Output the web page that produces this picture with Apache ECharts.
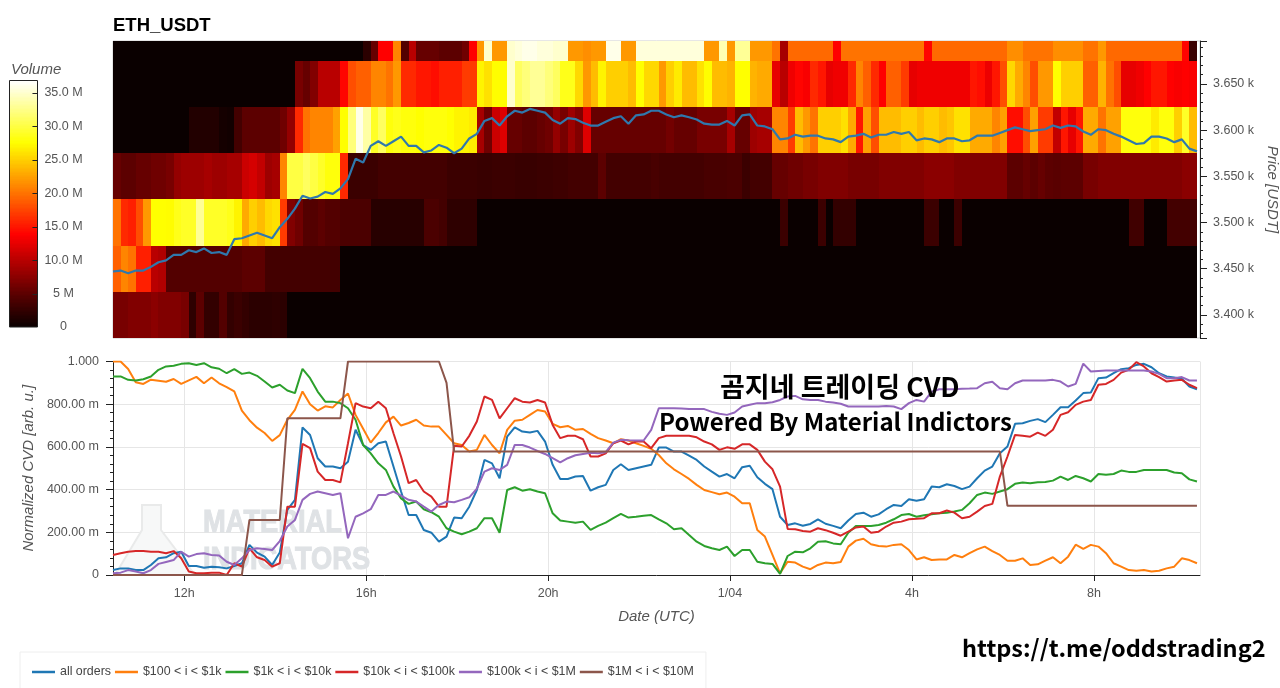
<!DOCTYPE html>
<html><head><meta charset="utf-8">
<style>html,body{margin:0;padding:0;background:#fff}#c{width:1280px;height:688px}</style>
<script src="https://cdn.jsdelivr.net/npm/echarts@6/dist/echarts.min.js"></script>
</head><body><div id="c"></div>
<script>
const legendNames = ['all orders','$100 < i < $1k','$1k < i < $10k','$10k < i < $100k','$100k < i < $1M','$1M < i < $10M'];
const priceBins = [3700,3650,3600,3550,3500,3450,3400];
const volTicks = [5,10,15,20,25,30,35];
// Volume per 10-minute column, in millions, one array per price bin
const vol3700 = [
0,0,0,0,0,0,0,0,0,0, 0,0,0,0,0,0,0,0,0,0, 0,0,0,0,0,0,0,0,0,0,
0,0,0,2,5.5,13.8,13.8,21,4.5,10, 5.5,5.5,5.5,5,5,5,6,13.8,22,35,
22,22,35,35.5,36,36,35.5,35.5,35,35, 22,22,21.5,22,22,36,36,22,22,35.5,
35.5,35.5,35.5,35.5,35.5,35.5,35.5,35.5,22,22, 34,22,33,33,22,22,22,20,9,19.5,
19.5,19.5,19.5,19.5,19.5,13.8,20,20,20,20, 20,20,20,20,20,20,20,14,19.5,19.5,
19.5,19.5,19.5,19.5,19.5,19.5,19.5,19.5,21.5,21.5, 20,20,20,20,21.5,21.5,21.5,21.5,20,20,
22,19.5,19.5,19.5,19.5,19.5,19.5,19.5,19.5,19.5, 19.5,14,3];
const vol3650 = [
0,0,0,0,0,0,0,0,0,0, 0,0,0,0,0,0,0,0,0,0, 0,0,0,0,6.5,5.5,7,10,10,10,
14,18,19,19,21,21,20,22,16,16, 15,15,14.5,15.5,15.5,15.5,17,17,27,26,
27.5,27.5,35,31,32,33,33,32,31,28.5, 28.5,25.5,22,24,27,25,25,25,24,27.6,
25.5,25.5,22,25,26.5,24,24,26,27.5,24, 24,23.5,27.6,27.6,23.5,23,23,12.5,10,13,
14,13.5,16,15,12.5,13,13,16,21,19, 16,13.8,19,19,17,12.5,13,13,13,13,
13,13,13,15,14.5,12.8,15,18,25.5,23, 21,18,22,22,27.6,25,25,25,19,19,
23.5,20,18,12.5,12.5,13,13.8,15,15,13.8, 13.5,13.8,13.5];
const vol3600 = [
0,0,0,0,0,0,0,0,0,0, 1.5,1.5,1.5,1.5,0.7,0.5,3.5,5,5,5, 5,5,6,8,16,20,21,21,21,22.5,
27.6,32,36,33.5,29,31,28,28.5,28,28, 27.6,28,28,28,27.6,27,27,26.5,9,6,
11,12,5.5,5.5,5,5,5.5,6,8,6.5, 8.5,7,12,5.5,5.5,5.5,5.5,5.5,5.5,5.5,
5.5,5.5,5.5,6.2,5.5,5.5,5.5,6.5,6.5,6.5, 6.5,9,5.5,5.5,8.5,9,9,21,21,17,
24,22,20,25,25,25,26,23,15,22.5, 18,24,24,24,25,25,24,25,25,24,
24.5,26,26,23,23,23,21,22.5,14.5,14.5, 18,22.5,17,17,10.5,15,12.5,15,23,23,
20,22.5,22.5,28,28,28,28,26.5,28,28, 25,29,24];
const vol3550 = [
5.5,5,5,5.5,5.5,6,6,6.5,8,8.5, 8.5,8.5,9,8.5,8.5,9,9,11,11.5,10.5, 8.5,9,21,30,30,31,30,29,28,28,
16,3,3,3,3,3.5,3.5,3.5,3.5,3.5, 3.5,3.5,3.5,3.5,3,3,3,3,2.8,2.8,
3,3,3,2.8,2.8,2.8,3,3,3.2,3.2, 3.5,3.5,3.5,3.5,5,3.5,3.5,3.5,3.5,3.5,
3.5,3.8,3.5,3.5,3.5,3.5,3.5,3.5,3.8,3.8, 3.8,4,4,3,3.5,3.5,3.5,5.5,5.5,6,
6,6.5,6.5,7,7,7,7,6.5,6.5,6.5, 6.5,7,7,7,7,7,7,7.5,7.5,7.5,
7.5,7,7,7,7,7,7,7,5,5, 5.5,5,5.5,5,4.8,5,5,5,6.5,6.5,
7,7,7,7,7,7,7,7,7,7, 7,7.5,7.5];
const vol3500 = [
20,16,15.5,18,22,27.6,27.6,27.5,28.5,29, 29,33,29,29,29,28.5,27,23,25,24, 25.5,26,17,7,6,4.5,4.5,5,4.5,4.5,
4,4,4,4,1.8,1.8,1.8,1.8,1.8,1.8, 1.8,4,4,3.5,2.2,2.2,2.2,2.2,0,0,
0,0,0,0,0,0,0,0,0,0, 0,0,0,0,0,0,0,0,0,0,
0,0,0,0,0,0,0,0,0,0, 0,0,0,0,0,0,0,0,3,0,
0,0,0,3,0,2.5,2.5,2.5,0,0, 0,0,0,0,0,0,0,3,3,0,
0,3,0,0,0,0,0,0,0,0, 0,0,0,0,0,0,0,0,0,0,
0,0,0,0,3.3,3.3,0,0,0,3.5, 3.5,3.5,3.5];
const vol3450 = [
19,21,20,15.5,15.5,10,9.5,4.5,4.5,4.5, 4.5,4.5,4.5,4.5,4.5,4.5,4.5,5,5,5, 3.5,3.5,3.5,3.5,3.5,3.5,3.5,3.5,3.5,3.5,
0,0,0,0,0,0,0,0,0,0, 0,0,0,0,0,0,0,0,0,0,
0,0,0,0,0,0,0,0,0,0, 0,0,0,0,0,0,0,0,0,0,
0,0,0,0,0,0,0,0,0,0, 0,0,0,0,0,0,0,0,0,0,
0,0,0,0,0,0,0,0,0,0, 0,0,0,0,0,0,0,0,0,0,
0,0,0,0,0,0,0,0,0,0, 0,0,0,0,0,0,0,0,0,0,
0,0,0,0,0,0,0,0,0,0, 0,0,0];
const vol3400 = [
6.5,6.5,7,7,7,7.5,7,7,7,6.5, 2.2,5,2.5,2.5,4.5,2.5,3,2.5,2,2, 2,2.2,2,0,0,0,0,0,0,0,
0,0,0,0,0,0,0,0,0,0, 0,0,0,0,0,0,0,0,0,0,
0,0,0,0,0,0,0,0,0,0, 0,0,0,0,0,0,0,0,0,0,
0,0,0,0,0,0,0,0,0,0, 0,0,0,0,0,0,0,0,0,0,
0,0,0,0,0,0,0,0,0,0, 0,0,0,0,0,0,0,0,0,0,
0,0,0,0,0,0,0,0,0,0, 0,0,0,0,0,0,0,0,0,0,
0,0,0,0,0,0,0,0,0,0, 0,0,0];
const priceLine = [
3447,3448,3445,3448,3448,3452,3457,3459,3465,3465, 3470,3468,3472,3467,3468,3465,3482,3483,3486,3489,
3486,3483,3495,3504,3515,3529,3526,3528,3533,3531, 3537,3547,3569,3565,3583,3588,3583,3588,3593,3583,
3583,3576,3578,3584,3581,3575,3580,3591,3596,3610, 3613,3605,3615,3621,3619,3623,3621,3619,3611,3607,
3613,3612,3608,3605,3605,3609,3613,3615,3607,3616, 3617,3621,3621,3617,3614,3616,3614,3611.5,3607,3606,
3606,3610,3605,3616,3617,3605,3604,3601,3590,3591, 3595,3593,3594,3594,3591,3590,3587,3593,3594,3596,
3592,3595,3595,3598,3596,3598,3589,3591,3590,3587, 3591,3591,3588,3589,3594,3594,3594,3597,3600,3603,
3601,3599,3600,3601,3605,3602.5,3605,3604,3598.5,3595, 3601,3600,3596,3593,3589,3585,3586,3593,3593,3591,
3587,3590,3580,3577];
// Normalized CVD, in milli-units
const cvdAll = [
23,31,31,23,23,47,78,83,102,109, 42,42,34,39,36,31,42,55,141,105,
86,47,105,305,352,691,656,547,508,508, 500,531,680,609,586,617,625,508,391,281,
281,211,198,156,180,269,266,320,398,539, 523,453,648,692,672,667,675,625,516,450,
450,461,464,395,411,422,492,519,492,500, 508,516,597,597,578,578,559,539,508,484,
461,473,453,505,512,458,427,402,273,234, 242,231,239,261,240,230,219,255,286,292,
273,284,308,328,323,355,348,355,414,411, 425,417,402,414,453,489,508,570,602,708,
711,722,730,716,750,786,786,817,852,855, 922,925,945,964,969,984,989,973,945,930,
925,919,883,870];
const cvd100 = [
1000,1000,965,903,895,915,910,905,918,895, 912,928,898,925,898,880,860,770,725,690,
665,628,655,727,773,860,800,770,790,785, 820,850,750,685,620,665,715,742,700,712,
727,700,695,695,656,617,609,578,586,656, 609,570,680,723,727,750,773,766,708,692,
698,680,684,661,641,630,617,636,630,617, 605,591,562,523,495,473,450,422,398,388,
378,386,367,336,336,211,180,94,8,62, 58,39,27,47,58,55,61,133,161,170,
144,136,133,141,144,117,73,83,70,73, 73,94,83,102,120,133,112,94,67,67,
78,47,50,67,83,55,86,142,122,141, 133,102,55,39,23,20,23,16,20,31,
39,78,70,55];
const cvd1k = [
930,930,914,911,917,930,961,977,980,989, 992,984,992,973,966,945,964,942,948,933,
906,878,891,864,852,966,922,859,812,812, 805,781,727,609,570,523,492,414,359,333,
344,308,294,273,219,203,191,203,219,266, 266,198,398,411,395,402,391,383,289,255,
250,245,250,211,230,245,266,286,269,273, 278,281,261,242,214,219,187,156,136,125,
117,133,89,117,117,62,55,52,5,89, 109,106,125,156,158,148,144,198,230,230,
230,234,245,261,281,286,273,280,284,289, 292,297,305,336,375,386,380,391,402,427,
433,430,434,436,442,461,445,464,453,438, 473,470,473,489,483,483,492,492,492,492,
480,477,448,438];
const cvd10k = [
94,102,109,112,112,109,109,102,112,78, 16,8,8,11,11,0,55,39,125,83,
70,39,55,320,320,614,594,484,445,445, 434,617,805,789,781,812,781,664,555,430,
445,391,367,320,320,605,602,652,719,836, 820,734,781,828,812,808,820,808,703,641,
652,652,636,555,555,570,617,630,612,625, 625,594,641,652,652,652,652,645,625,612,
586,598,591,612,612,586,531,495,414,216, 214,206,203,219,210,198,184,203,223,227,
198,203,227,245,250,261,263,266,289,289, 302,292,266,273,297,323,333,461,555,656,
652,648,667,652,680,750,762,797,812,820, 891,895,914,948,961,997,977,945,927,906,
911,914,891,875];
const cvd100k = [
8,11,23,16,8,23,52,61,70,109, 86,98,102,94,91,62,47,78,117,125,
122,117,159,227,258,352,380,391,383,375, 383,172,273,289,308,375,375,391,372,352,
344,320,297,328,344,341,352,364,405,484, 500,492,516,609,609,597,581,567,547,527,
547,561,567,573,570,575,620,633,631,630, 630,680,781,781,781,780,777,777,777,764,
755,750,761,789,797,805,805,809,820,836, 839,823,820,820,812,808,802,789,789,789,
789,789,792,789,777,805,820,812,859,870, 870,870,872,873,875,898,905,875,870,898,
911,911,911,911,914,906,883,895,990,953, 956,958,958,958,958,958,958,953,942,922,
922,927,911,911];
const cvd1M = [
0,0,0,0,0,0,0,0,0,0, 0,0,0,0,0,0,0,0,258,258,
258,258,258,734,734,734,734,734,734,734, 734,1000,1000,1000,1000,1000,1000,1000,1000,1000,
1000,1000,1000,1000,900,578,578,578,578,578, 578,578,578,578,578,578,578,578,578,578,
578,578,578,578,578,578,578,578,578,578, 578,578,578,578,578,578,578,578,578,578,
578,578,578,578,578,578,578,578,578,578, 578,578,578,578,578,578,578,578,578,578,
578,578,578,578,578,578,578,578,578,578, 578,578,578,578,578,578,578,578,324,324,
324,324,324,324,324,324,324,324,324,324, 324,324,324,324,324,324,324,324,324,324,
324,324,324,324];

const cvdColors = ['#1f77b4','#ff7f0e','#2ca02c','#d62728','#9467bd','#8c564b'];
const hotColors = ['#0a0000','#550000','#aa0000','#ff0000','#ff5500','#ffaa00','#ffff00','#ffff80','#ffffff'];
const TEN_MIN = 600000;
const tStart = Date.UTC(2024,2,31,10,26);
const tEnd = tStart + 143.4*TEN_MIN;
const volMax = 36.8;
const binHalf = 25;
const FONT = '"Liberation Sans", Arial, sans-serif';
const KFONT = '"Noto Sans CJK KR", sans-serif';

const volRows = [vol3700,vol3650,vol3600,vol3550,vol3500,vol3450,vol3400];
const heatData = [];
volRows.forEach((row,r)=>row.forEach((v,c)=>{
  heatData.push([tStart+c*TEN_MIN, tStart+(c+1)*TEN_MIN, priceBins[r]-binHalf, priceBins[r]+binHalf, v]);
}));
const stripData = [];
for(let k=0;k<184;k++){ const lo=k*volMax/184, hi=(k+1)*volMax/184; stripData.push([0,1,lo,hi,(lo+hi)/2]); }

function renderCell(params, api){
  const p0 = api.coord([api.value(0), api.value(3)]);
  const p1 = api.coord([api.value(1), api.value(2)]);
  const x0=Math.round(p0[0]), x1=Math.round(p1[0]), y0=Math.round(p0[1]), y1=Math.round(p1[1]);
  return {type:'rect', shape:{x:x0,y:y0,width:x1-x0,height:y1-y0}, style:{fill:api.visual('color')}};
}
function renderTick(params, api){
  const a = api.coord([0.82, api.value(0)]);
  const b = api.coord([1, api.value(0)]);
  return {type:'line', shape:{x1:a[0],y1:Math.round(a[1])+0.5,x2:b[0],y2:Math.round(a[1])+0.5}, style:{stroke:'#222',lineWidth:1}};
}
const series2 = (arr)=>arr.map((v,i)=>[tStart+i*TEN_MIN,v]);
const axisText = {color:'#555', fontFamily:FONT, fontSize:12.5};
const nameText = {color:'#555', fontFamily:FONT, fontSize:15, fontStyle:'italic'};

const cvdSeries = [cvdAll,cvd100,cvd1k,cvd10k,cvd100k,cvd1M].map((d,i)=>({
  name:legendNames[i], type:'line', xAxisIndex:1, yAxisIndex:1, data:series2(d),
  showSymbol:false, symbol:'none', smooth:false, z:3+i,
  lineStyle:{color:cvdColors[i], width:2}, itemStyle:{color:cvdColors[i]}
}));

const option = {
  useUTC:true, animation:false, backgroundColor:'#fff',
  title:[
    {text:'ETH_USDT', left:113, top:16, textStyle:{fontFamily:FONT,fontSize:18.5,fontWeight:'bold',color:'#000'}, padding:0},
    {text:'Volume', left:11, top:62, padding:0, textStyle:{...nameText, fontWeight:'normal'}},
    {text:'곰지네 트레이딩 CVD', left:720, top:373, padding:0, z:20, textStyle:{fontFamily:KFONT,fontSize:27,fontWeight:'bold',color:'#000'}},
    {text:'Powered By Material Indictors', left:659, top:410, padding:0, z:20, textStyle:{fontFamily:KFONT,fontSize:24,fontWeight:'bold',color:'#000'}},
    {text:'https://t.me/oddstrading2', left:962, top:636, padding:0, z:20, textStyle:{fontFamily:KFONT,fontSize:23.5,fontWeight:'bold',color:'#000'}}
  ],
  legend:{
    data:legendNames, left:20, top:652, orient:'horizontal', icon:'rect',
    padding:[14,12,14,12], itemWidth:23, itemHeight:2.5, itemGap:4,
    backgroundColor:'#fff', borderColor:'#eee', borderWidth:1,
    textStyle:{color:'#444',fontFamily:FONT,fontSize:12.4}
  },
  grid:[
    {left:113, top:41, width:1087, height:297, show:true, borderColor:'#ccc', borderWidth:1, backgroundColor:'#fff', outerBoundsMode:'none'},
    {left:113, top:361.5, width:1087, height:213.5, show:false, outerBoundsMode:'none'},
    {left:9.5, top:81, width:28, height:246, show:false, outerBoundsMode:'none'}
  ],
  xAxis:[
    {type:'time', gridIndex:0, min:tStart, max:tEnd, show:false},
    {type:'time', gridIndex:1, min:tStart, max:tEnd,
      name:'Date (UTC)', nameLocation:'middle', nameGap:34, nameTextStyle:nameText,
      minInterval:4*3600000, maxInterval:4*3600000,
      axisLine:{show:true, lineStyle:{color:'#222'}}, axisTick:{show:true, length:6, lineStyle:{color:'#222'}},
      axisLabel:{...axisText, margin:12, showMinLabel:false, showMaxLabel:false, hideOverlap:false,
        formatter:(v)=>{const d=new Date(v),h=d.getUTCHours(); return h===0?(d.getUTCMonth()===3?'1/04':''):h+'h';}},
      splitLine:{show:true, lineStyle:{color:'#e6e6e6'}}
    },
    {type:'value', gridIndex:2, min:0, max:1, show:false}
  ],
  yAxis:[
    {type:'value', gridIndex:0, position:'right', min:3375, max:3696.5, splitNumber:6,
      name:'Price [USDT]', nameLocation:'middle', nameRotate:-90, nameGap:64, nameTextStyle:nameText,
      axisLine:{show:true,onZero:false,lineStyle:{color:'#222'}}, axisTick:{show:true,length:7,lineStyle:{color:'#222'}},
      minorTick:{show:true,splitNumber:5,length:3,lineStyle:{color:'#222'}},
      axisLabel:{...axisText, margin:13, showMinLabel:false, showMaxLabel:false, formatter:(v)=>(v/1000).toFixed(3)+' k'},
      splitLine:{show:false}
    },
    {type:'value', gridIndex:1, min:0, max:1000, interval:200,
      name:'Normalized CVD [arb. u.]', nameLocation:'middle', nameRotate:90, nameGap:70, nameTextStyle:nameText,
      axisLine:{show:true,onZero:false,lineStyle:{color:'#222'}}, axisTick:{show:true,length:7,lineStyle:{color:'#222'}},
      minorTick:{show:true,splitNumber:5,length:3,lineStyle:{color:'#222'}},
      axisLabel:{...axisText, margin:14, formatter:(v)=>v===1000?'1.000':(v===0?'0':v.toFixed(2)+' m')},
      splitLine:{show:true,lineStyle:{color:'#e6e6e6'}}
    },
    {type:'value', gridIndex:2, position:'right', min:0, max:volMax, interval:5,
      axisLine:{show:false}, axisTick:{show:false},
      axisLabel:{...axisText, margin:26, align:'center', showMaxLabel:false,
        formatter:(v)=>v===0?'0':(v===5?'5 M':v.toFixed(1)+' M')},
      splitLine:{show:false}, z:5
    }
  ],
  visualMap:{type:'continuous', show:false, min:0, max:volMax, dimension:4, seriesIndex:[0,1], inRange:{color:hotColors}},
  graphic:[
    {type:'polygon', z:1, shape:{points:[[142,505],[161,505],[161,530],[195,575],[115,575],[142,530]]}, style:{fill:'#f7f8f8',stroke:'#e9eaea',lineWidth:2}},
    {type:'text', z:1, x:203, y:508, scaleX:0.88, style:{text:'MATERIAL',fill:'#dfe2e5',stroke:'#dfe2e5',lineWidth:1,font:'bold 31px '+FONT}},
    {type:'text', z:1, x:203, y:545, scaleX:0.88, style:{text:'INDICATORS',fill:'#dfe2e5',stroke:'#dfe2e5',lineWidth:1,font:'bold 31px '+FONT}},
    {type:'rect', z:6, shape:{x:9.5,y:80.5,width:28,height:246.5}, style:{fill:'transparent',stroke:'#222',lineWidth:1}}
  ],
  series:[
    {type:'custom', name:'Volume heat', xAxisIndex:0, yAxisIndex:0, clip:true, renderItem:renderCell, data:heatData, encode:{x:[0,1],y:[2,3]}, silent:true, z:1},
    {type:'custom', name:'Volume scale', xAxisIndex:2, yAxisIndex:2, clip:true, renderItem:renderCell, data:stripData, encode:{x:[0,1],y:[2,3]}, silent:true, z:1},
    {type:'custom', name:'Volume ticks', xAxisIndex:2, yAxisIndex:2, renderItem:renderTick, data:volTicks.map(v=>[v]), encode:{y:0}, silent:true, z:2},
    {type:'line', name:'Price', xAxisIndex:0, yAxisIndex:0, data:series2(priceLine), showSymbol:false, symbol:'none', z:3, lineStyle:{color:'#2f78ad',width:2.2}},
    ...cvdSeries
  ]
};
const chart = echarts.init(document.getElementById('c'),null,{renderer:'canvas'});
chart.setOption(option);
</script></body></html>
